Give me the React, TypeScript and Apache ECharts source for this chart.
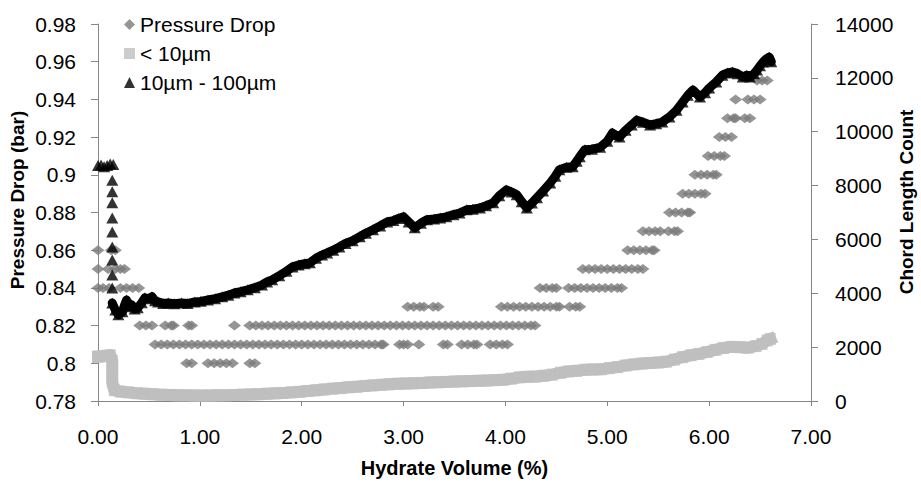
import React, { useEffect, useRef } from "react";
import * as echarts from "echarts";

const FONT = "'Liberation Sans', Arial, sans-serif";

const seriesNames = ["Pressure Drop", "< 10µm", "10µm - 100µm"];
const xAxisTitle = "Hydrate Volume (%)";
const leftAxisTitle = "Pressure Drop (bar)";
const rightAxisTitle = "Chord Length Count";

// Pressure drop (bar): x positions (hydrate volume %) read for each 0.01 bar level
const pd080 = [0.87, 0.92, 1.08, 1.14, 1.2, 1.26, 1.32, 1.49, 1.54];
const pd081 = [
  0.56, 0.62, 0.68, 0.74, 0.8, 0.86, 0.92, 0.98, 1.04, 1.1, 1.16, 1.22, 1.28, 1.34, 1.4, 1.46,
  1.52, 1.58, 1.64, 1.7, 1.76, 1.82, 1.88, 1.94, 2.0, 2.06, 2.12, 2.18, 2.24, 2.3, 2.36, 2.42,
  2.48, 2.54, 2.6, 2.66, 2.72, 2.78, 2.8, 2.96, 3.0, 3.04, 3.15, 3.39, 3.43, 3.57, 3.63, 3.69,
  3.72, 3.85, 3.91, 3.97, 4.02,
];
const pd082 = [
  0.41, 0.47, 0.53, 0.66, 0.72, 0.74, 0.89, 0.92, 1.34, 1.49, 1.55, 1.61, 1.67, 1.73, 1.79, 1.85,
  1.91, 1.97, 2.03, 2.09, 2.15, 2.21, 2.27, 2.33, 2.39, 2.45, 2.51, 2.57, 2.63, 2.69, 2.75, 2.81,
  2.87, 2.93, 2.99, 3.05, 3.11, 3.17, 3.23, 3.29, 3.35, 3.41, 3.47, 3.53, 3.59, 3.65, 3.71, 3.77,
  3.83, 3.89, 3.95, 4.01, 4.07, 4.13, 4.19, 4.25, 4.29,
];
const pd083 = [
  3.04, 3.1, 3.16, 3.2, 3.29, 3.34, 3.96, 4.02, 4.08, 4.14, 4.2, 4.26, 4.32, 4.38, 4.44, 4.5,
  4.53, 4.63, 4.69, 4.73,
];
const pd084 = [
  0.0, 0.05, 0.11, 0.22, 0.28, 0.34, 0.4, 4.34, 4.4, 4.46, 4.5, 4.62, 4.68, 4.74, 4.8, 4.86, 4.92,
  4.98, 5.04, 5.1, 5.14,
];
const pd085 = [0.0, 0.1, 0.17, 0.22, 0.26, 4.76, 4.82, 4.88, 4.94, 5.0, 5.06, 5.12, 5.18, 5.24, 5.3, 5.35];
const pd086 = [0.0, 0.13, 0.17, 5.2, 5.26, 5.32, 5.38, 5.44, 5.46];
const pd087 = [5.35, 5.41, 5.47, 5.52, 5.6, 5.66, 5.69];
const pd088 = [5.61, 5.67, 5.73, 5.79, 5.81];
const pd089 = [5.74, 5.8, 5.86, 5.92, 5.96];
const pd090 = [5.86, 5.92, 5.98, 6.04, 6.07];
const pd091 = [5.99, 6.05, 6.11, 6.15];
const pd092 = [6.1, 6.16, 6.22];
const pd093 = [6.18, 6.24, 6.26, 6.35, 6.4];
const pd094 = [6.26, 6.38, 6.44, 6.5];
const pd095 = [6.47, 6.52, 6.57];

const pressureLevels = [0.8, 0.81, 0.82, 0.83, 0.84, 0.85, 0.86, 0.87, 0.88, 0.89, 0.9, 0.91, 0.92, 0.93, 0.94, 0.95];
const pressureRows = [pd080, pd081, pd082, pd083, pd084, pd085, pd086, pd087, pd088, pd089, pd090, pd091, pd092, pd093, pd094, pd095];

// < 10µm chord length count: [hydrate volume %, count]
const small: [number, number][] = [
  [0.0, 1650], [0.05, 1660], [0.09, 1680], [0.12, 1700], [0.14, 1500], [0.14, 1100], [0.14, 700],
  [0.16, 400], [0.22, 350], [0.3, 320], [0.38, 290], [0.46, 270], [0.54, 250], [0.62, 235],
  [0.7, 225], [0.78, 215], [0.86, 210], [0.94, 205], [1.02, 200], [1.1, 205], [1.18, 210],
  [1.26, 215], [1.34, 225], [1.42, 235], [1.5, 245], [1.58, 255], [1.66, 270], [1.74, 285],
  [1.82, 300], [1.9, 320], [1.98, 340], [2.06, 370], [2.14, 400], [2.22, 430], [2.3, 460],
  [2.38, 480], [2.46, 510], [2.54, 530], [2.62, 560], [2.7, 580], [2.78, 600], [2.86, 620],
  [2.94, 640], [3.02, 650], [3.1, 660], [3.18, 670], [3.26, 690], [3.34, 700], [3.42, 710],
  [3.5, 720], [3.58, 730], [3.66, 740], [3.74, 750], [3.82, 760], [3.9, 775], [3.98, 790],
  [4.06, 830], [4.14, 880], [4.22, 900], [4.3, 910], [4.38, 940], [4.46, 980], [4.54, 1050],
  [4.62, 1100], [4.7, 1120], [4.78, 1160], [4.86, 1170], [4.94, 1180], [5.02, 1220], [5.1, 1260],
  [5.18, 1320], [5.26, 1360], [5.34, 1390], [5.42, 1410], [5.5, 1430], [5.58, 1460], [5.66, 1540],
  [5.74, 1630], [5.82, 1700], [5.9, 1750], [5.98, 1820], [6.06, 1900], [6.14, 1970], [6.22, 2010],
  [6.3, 2000], [6.38, 1980], [6.46, 2040], [6.52, 2120], [6.57, 2250], [6.6, 2300],
];

// 10µm - 100µm chord length count: [hydrate volume %, count]
const mediumStart: [number, number][] = [
  [0.0, 8750], [0.03, 8760], [0.06, 8700], [0.09, 8750], [0.12, 8800], [0.15, 8780],
  [0.14, 8200], [0.14, 7770], [0.14, 7360], [0.14, 6800], [0.14, 6280], [0.14, 5720],
  [0.14, 5240], [0.14, 4680], [0.14, 4200],
];
const mediumMain: [number, number][] = [
  [0.14, 3640], [0.17, 3380], [0.2, 3200],
  [0.24, 3310], [0.26, 3550], [0.28, 3750], [0.31, 3500], [0.33, 3570], [0.36, 3420],
  [0.39, 3460], [0.43, 3650], [0.46, 3830], [0.5, 3800], [0.53, 3870], [0.56, 3720],
  [0.59, 3680], [0.64, 3620], [0.69, 3640], [0.75, 3610], [0.82, 3640], [0.88, 3620],
  [0.95, 3680], [1.01, 3700], [1.08, 3750], [1.15, 3800], [1.22, 3870], [1.28, 3930],
  [1.34, 4010], [1.4, 4060], [1.47, 4130], [1.54, 4210], [1.61, 4310], [1.66, 4420],
  [1.71, 4500], [1.78, 4650], [1.85, 4820], [1.91, 4980], [1.97, 5050], [2.03, 5100],
  [2.08, 5130], [2.14, 5300], [2.2, 5420], [2.25, 5500], [2.31, 5600], [2.37, 5720],
  [2.43, 5850], [2.5, 5950], [2.57, 6100], [2.63, 6230], [2.7, 6360], [2.77, 6500],
  [2.84, 6650], [2.9, 6700], [2.95, 6780], [3.0, 6840], [3.05, 6650], [3.11, 6430],
  [3.17, 6600], [3.23, 6730], [3.3, 6760], [3.36, 6800], [3.42, 6840], [3.49, 6920],
  [3.55, 6980], [3.62, 7100], [3.68, 7120], [3.75, 7170], [3.81, 7250], [3.88, 7360],
  [3.94, 7620], [4.01, 7840], [4.06, 7760], [4.11, 7660], [4.16, 7400], [4.21, 7170],
  [4.26, 7350], [4.31, 7550], [4.37, 7800], [4.44, 8100], [4.49, 8350], [4.53, 8590],
  [4.6, 8680], [4.66, 8700], [4.7, 8900], [4.73, 9070], [4.78, 9330], [4.85, 9350],
  [4.93, 9420], [5.0, 9650], [5.05, 9950], [5.12, 9800], [5.18, 10050], [5.24, 10250],
  [5.29, 10430], [5.35, 10350], [5.42, 10250], [5.48, 10300], [5.54, 10360], [5.61, 10550],
  [5.68, 10800], [5.74, 11100], [5.79, 11350], [5.84, 11550], [5.91, 11290], [5.96, 11450],
  [6.0, 11620], [6.07, 11850], [6.13, 12100], [6.18, 12180], [6.23, 12220], [6.28, 12150],
  [6.33, 12030], [6.37, 12100], [6.4, 12030], [6.44, 12150], [6.47, 12290], [6.5, 12450],
  [6.53, 12590], [6.56, 12700], [6.59, 12770], [6.61, 12600],
];

const AXIS_COLOR = "#868686";

export default function App() {
  const ref = useRef<HTMLDivElement>(null);

  useEffect(() => {
    if (!ref.current) return;
    const chart = echarts.init(ref.current, undefined, { renderer: "svg" });

    const pressureData: number[][] = [];
    pressureRows.forEach((xs, i) => {
      xs.forEach((x) => pressureData.push([x, pressureLevels[i]]));
    });
    const medium = [...mediumStart, ...mediumMain];

    const axisLine = { show: true, lineStyle: { color: AXIS_COLOR, width: 1 } };
    const labelStyle = { fontSize: 21, color: "#000", fontFamily: FONT };
    const titleStyle = {
      fontSize: 19,
      fontWeight: "bold",
      fontFamily: FONT,
      fill: "#000",
      textAlign: "center",
      textVerticalAlign: "middle",
    };

    chart.setOption({
      animation: false,
      textStyle: { fontFamily: FONT },
      grid: { left: 98, right: 110, top: 24, bottom: 88 },
      legend: {
        orient: "vertical",
        left: 119,
        top: 9,
        itemWidth: 11,
        itemHeight: 11,
        itemGap: 8,
        textStyle: { fontSize: 21, color: "#000", lineHeight: 21, fontFamily: FONT },
        data: [
          { name: seriesNames[0], icon: "diamond" },
          { name: seriesNames[1], icon: "rect" },
          { name: seriesNames[2], icon: "triangle" },
        ],
      },
      xAxis: {
        type: "value",
        min: 0,
        max: 7,
        interval: 1,
        name: xAxisTitle,
        nameLocation: "middle",
        nameGap: 57,
        nameTextStyle: { fontSize: 20, fontWeight: "bold", color: "#000", fontFamily: FONT },
        axisLine,
        axisTick: { show: true, length: 5, lineStyle: { color: AXIS_COLOR } },
        axisLabel: { ...labelStyle, margin: 25, formatter: (v: number) => v.toFixed(2) },
        splitLine: { show: false },
      },
      yAxis: [
        {
          type: "value",
          position: "left",
          min: 0.78,
          max: 0.98,
          interval: 0.02,
          axisLine,
          axisTick: { show: true, length: 7, lineStyle: { color: AXIS_COLOR } },
          axisLabel: { ...labelStyle, margin: 22 },
          splitLine: { show: false },
        },
        {
          type: "value",
          position: "right",
          min: 0,
          max: 14000,
          interval: 2000,
          axisLine,
          axisTick: { show: true, length: 7, lineStyle: { color: AXIS_COLOR } },
          axisLabel: { ...labelStyle, margin: 24, formatter: (v: number) => String(v) },
          splitLine: { show: false },
        },
      ],
      graphic: [
        { type: "text", x: 17, y: 200, rotation: Math.PI / 2, style: { ...titleStyle, text: leftAxisTitle } },
        { type: "text", x: 906, y: 202, rotation: Math.PI / 2, style: { ...titleStyle, text: rightAxisTitle } },
      ],
      series: [
        {
          name: seriesNames[0],
          type: "scatter",
          yAxisIndex: 0,
          symbol: "diamond",
          symbolSize: [13, 10],
          clip: false,
          itemStyle: { color: "#7a7a7a" },
          data: pressureData,
          z: 2,
        },
        {
          name: "small-band",
          type: "line",
          yAxisIndex: 1,
          showSymbol: false,
          symbol: "none",
          clip: false,
          silent: true,
          lineStyle: { color: "#bfbfbf", width: 12, join: "round", cap: "square" },
          data: small,
          z: 3,
        },
        {
          name: seriesNames[1],
          type: "scatter",
          yAxisIndex: 1,
          symbol: "rect",
          symbolSize: [11, 12],
          clip: false,
          itemStyle: { color: "#bfbfbf" },
          data: small,
          z: 3,
        },
        {
          name: "medium-band",
          type: "line",
          yAxisIndex: 1,
          showSymbol: false,
          symbol: "none",
          clip: false,
          silent: true,
          lineStyle: { color: "#000", width: 9, join: "round", cap: "round" },
          data: mediumMain,
          z: 4,
        },
        {
          name: seriesNames[2],
          type: "scatter",
          yAxisIndex: 1,
          symbol: "triangle",
          symbolSize: [12, 11],
          clip: false,
          itemStyle: { color: "#000" },
          data: medium,
          z: 4,
        },
      ],
    });

    return () => chart.dispose();
  }, []);

  return (
    <div
      ref={ref}
      style={{ position: "fixed", left: 0, top: 0, width: 921, height: 489, background: "#fff" }}
    />
  );
}
